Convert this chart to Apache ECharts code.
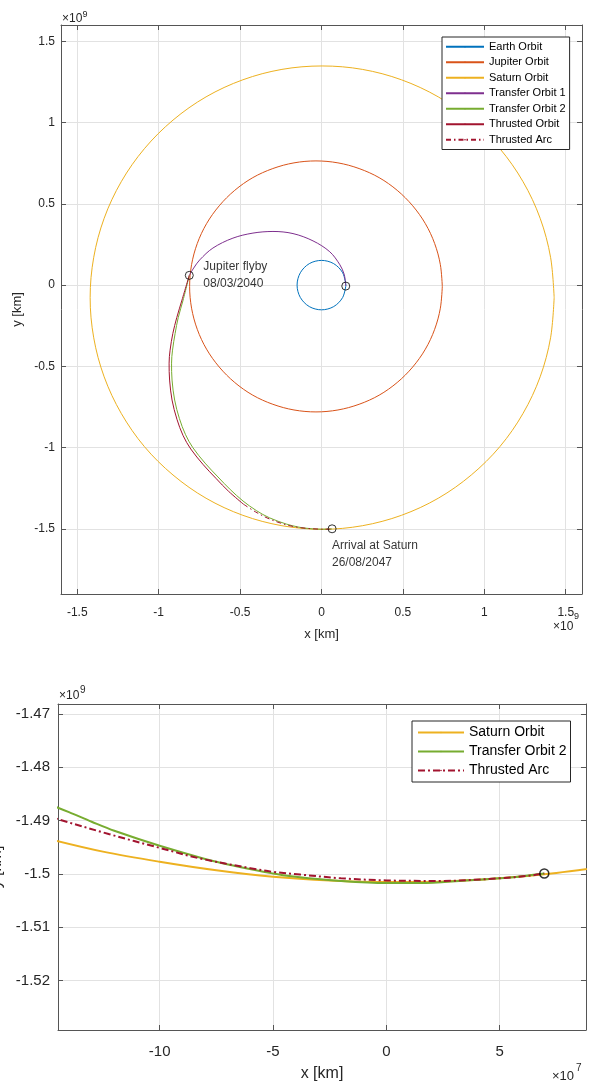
<!DOCTYPE html>
<html><head><meta charset="utf-8">
<script src="https://cdn.jsdelivr.net/npm/echarts@6/dist/echarts.min.js"></script>
<style>html,body{margin:0;padding:0;background:#fff}#c{width:592px;height:1082px}</style>
</head><body><div id="c"></div>
<script>
// ---- DATA (top plot: x, y in 1e9 km; zoom plot: x in 1e7 km, y in 1e9 km) ----
const earthOrbit = [[0.150,0.000],[0.130,0.076],[0.075,0.132],[0.000,0.152],[-0.075,0.132],[-0.130,0.076],[-0.150,0.000],[-0.130,-0.076],[-0.075,-0.132],[0.000,-0.152],[0.075,-0.132],[0.130,-0.076],[0.150,0.000]];
const jupiterOrbit = [[0.742,-0.008],[0.730,0.126],[0.695,0.256],[0.638,0.378],[0.560,0.488],[0.465,0.583],[0.354,0.661],[0.231,0.717],[0.101,0.752],[-0.034,0.764],[-0.169,0.752],[-0.299,0.717],[-0.422,0.661],[-0.533,0.583],[-0.628,0.488],[-0.706,0.378],[-0.763,0.256],[-0.798,0.126],[-0.810,-0.008],[-0.798,-0.142],[-0.763,-0.272],[-0.706,-0.394],[-0.628,-0.504],[-0.533,-0.599],[-0.422,-0.677],[-0.299,-0.733],[-0.169,-0.768],[-0.034,-0.780],[0.101,-0.768],[0.231,-0.733],[0.354,-0.677],[0.465,-0.599],[0.560,-0.504],[0.638,-0.394],[0.695,-0.272],[0.730,-0.142],[0.742,-0.008]];
const saturnOrbit = [[1.429,-0.077],[1.407,0.171],[1.343,0.411],[1.238,0.636],[1.096,0.839],[0.920,1.015],[0.717,1.158],[0.491,1.263],[0.251,1.327],[0.004,1.348],[-0.243,1.327],[-0.483,1.263],[-0.709,1.158],[-0.912,1.015],[-1.088,0.839],[-1.230,0.636],[-1.335,0.411],[-1.399,0.171],[-1.421,-0.077],[-1.399,-0.324],[-1.335,-0.564],[-1.230,-0.789],[-1.088,-0.993],[-0.912,-1.168],[-0.709,-1.311],[-0.483,-1.416],[-0.243,-1.480],[0.004,-1.502],[0.251,-1.480],[0.491,-1.416],[0.717,-1.311],[0.920,-1.168],[1.096,-0.993],[1.238,-0.789],[1.343,-0.564],[1.407,-0.324],[1.429,-0.077]];
const transferOrbit1 = [[0.149,-0.006],[0.145,0.035],[0.138,0.070],[0.113,0.125],[0.051,0.205],[-0.052,0.272],[-0.175,0.317],[-0.298,0.330],[-0.421,0.320],[-0.544,0.289],[-0.667,0.228],[-0.748,0.155],[-0.785,0.105],[-0.812,0.060]];
const transferOrbit2 = [[-0.812,0.060],[-0.850,-0.092],[-0.880,-0.200],[-0.899,-0.297],[-0.915,-0.400],[-0.921,-0.480],[-0.918,-0.584],[-0.902,-0.707],[-0.873,-0.820],[-0.835,-0.920],[-0.790,-1.000],[-0.715,-1.095],[-0.636,-1.180],[-0.560,-1.258],[-0.482,-1.328],[-0.400,-1.387],[-0.318,-1.432],[-0.215,-1.470],[-0.145,-1.4876],[-0.100,-1.4947],[-0.050,-1.4999],[0.000,-1.5017],[0.035,-1.5011],[0.065,-1.4999]];
const thrustedOrbit = [[-0.812,0.060],[-0.857,-0.092],[-0.889,-0.200],[-0.913,-0.297],[-0.930,-0.400],[-0.936,-0.480],[-0.933,-0.584],[-0.918,-0.707],[-0.888,-0.825],[-0.850,-0.926],[-0.803,-1.008],[-0.726,-1.105],[-0.647,-1.190],[-0.571,-1.268],[-0.480,-1.347]];
const thrustedArc = [[-0.480,-1.347],[-0.405,-1.395],[-0.321,-1.438],[-0.217,-1.4745],[-0.145,-1.4897],[-0.100,-1.4951],[-0.060,-1.4985],[0.000,-1.5012],[0.024,-1.5013],[0.050,-1.5008],[0.065,-1.4999]];
const eventPoints = [[0.149,-0.006],[-0.812,0.060],[0.065,-1.499]];
const eventLabels = ['', 'Jupiter flyby\n08/03/2040', 'Arrival at Saturn\n26/08/2047'];

const zoomSaturn = [[-15,-1.4933],[-12.5,-1.4958],[-10,-1.4977],[-7.5,-1.4993],[-5,-1.5005],[-2.5,-1.5012],[0,-1.5015],[2.5,-1.5014],[5,-1.5008],[7.5,-1.4998],[10,-1.4984]];
const zoomTransfer2 = [[-15,-1.4867],[-14,-1.4884],[-13,-1.4902],[-12,-1.4919],[-10,-1.4947],[-7.5,-1.4977],[-5,-1.4999],[-4,-1.5005],[-2,-1.5013],[0,-1.5017],[1.5,-1.5017],[3.5,-1.5012],[5,-1.5008],[6,-1.5004],[6.97,-1.4999]];
const zoomArc = [[-15,-1.4890],[-14.5,-1.4897],[-12.25,-1.4925],[-10,-1.4951],[-8.2,-1.4971],[-6,-1.4989],[-5,-1.4996],[-3.8,-1.5001],[-2,-1.5008],[0,-1.5012],[2.4,-1.5013],[5,-1.5008],[6.35,-1.5003],[6.97,-1.4999]];
const zoomEvent = [[6.97,-1.4999]];

const topNames = ['Earth Orbit','Jupiter Orbit','Saturn Orbit','Transfer Orbit 1','Transfer Orbit 2','Thrusted Orbit','Thrusted Arc'];
const zoomNames = ['Saturn Orbit','Transfer Orbit 2','Thrusted Arc'];

// ---- STYLE ----
const FONT = '"Liberation Sans", Arial, Helvetica, sans-serif';
const C = {earth:'#0072BD', jup:'#D95319', sat:'#EDB120', t1:'#7E2F8E', t2:'#77AC30', thr:'#A2142F'};
const AX = '#555555', TXT = '#262626', GRID = '#e2e2e2';

function xAxis(g, min, max, split, fs, name, gap, margin, main) {
  return {
    type:'value', gridIndex:g, min:min, max:max, splitNumber:split,
    position: main ? 'bottom' : 'top',
    axisLine:{show:true, onZero:false, lineStyle:{color:AX, width:1}},
    axisTick:{show:true, inside:true, length:5, lineStyle:{color:AX}},
    axisLabel:{show:main, showMinLabel:false, showMaxLabel:false, color:TXT, fontSize:fs, fontFamily:FONT, margin:margin},
    splitLine:{show:main, lineStyle:{color:GRID, width:1}},
    name: main ? name : '', nameLocation:'middle', nameGap:gap,
    nameTextStyle:{color:TXT, fontSize:fs+1, fontFamily:FONT}
  };
}
function yAxis(g, min, max, split, fs, name, gap, margin, main) {
  return {
    type:'value', gridIndex:g, min:min, max:max, splitNumber:split,
    position: main ? 'left' : 'right',
    axisLine:{show:true, onZero:false, lineStyle:{color:AX, width:1}},
    axisTick:{show:true, inside:true, length:5, lineStyle:{color:AX}},
    axisLabel:{show:main, showMinLabel:false, showMaxLabel:false, color:TXT, fontSize:fs, fontFamily:FONT, margin:margin},
    splitLine:{show:main, lineStyle:{color:GRID, width:1}},
    name: main ? name : '', nameLocation:'middle', nameGap:gap, nameRotate:90,
    nameTextStyle:{color:TXT, fontSize:fs+1, fontFamily:FONT}
  };
}
function line(name, data, color, w, xi, yi, dash) {
  return {
    name:name, type:'line', xAxisIndex:xi, yAxisIndex:yi, data:data,
    symbol:'none', showSymbol:false, smooth:0.34, silent:true,
    lineStyle:{color:color, width:w, type: dash || 'solid'},
    itemStyle:{color:color}
  };
}

const topDash = [5, 3, 1.5, 3];
const zoomDash = [7, 3, 2, 3];

const option = {
  animation:false,
  backgroundColor:'#fff',
  grid:[
    {left:61, top:25, width:521, height:569, outerBoundsMode:'none', containLabel:false},
    {left:58, top:704, width:528, height:326, outerBoundsMode:'none', containLabel:false}
  ],
  xAxis:[
    xAxis(0, -1.6, 1.6, 6, 12, 'x [km]', 34, 13, true),
    xAxis(0, -1.6, 1.6, 6, 12, '', 0, 0, false),
    xAxis(1, -14.484, 8.81, 5, 15, 'x [km]', 36, 14.5, true),
    xAxis(1, -14.484, 8.81, 5, 15, '', 0, 0, false)
  ],
  yAxis:[
    yAxis(0, -1.9, 1.6, 7, 12, 'y [km]', 25.5, 6, true),
    yAxis(0, -1.9, 1.6, 7, 12, '', 0, 0, false),
    yAxis(1, -1.52925, -1.46812, 6, 15, 'y [km]', 38, 8, true),
    yAxis(1, -1.52925, -1.46812, 6, 15, '', 0, 0, false)
  ],
  legend:[
    {
      data: topNames, orient:'vertical', left:442, top:37,
      itemWidth:38, itemHeight:2, itemGap:0, padding:[2,4,2,3],
      borderColor:'#262626', borderWidth:1, backgroundColor:'#fff',
      selectedMode:false,
      textStyle:{color:'#000', fontSize:11, fontFamily:FONT, lineHeight:15.5}
    },
    {
      data: zoomNames.map(n => n + '#z'), orient:'vertical', left:412, top:721,
      itemWidth:46, itemHeight:2, itemGap:0, padding:[2,4,2,5],
      borderColor:'#262626', borderWidth:1, backgroundColor:'#fff',
      selectedMode:false,
      formatter: n => n.split('#')[0],
      textStyle:{color:'#000', fontSize:14, fontFamily:FONT, lineHeight:19}
    }
  ],
  series:[
    line('Earth Orbit', earthOrbit, C.earth, 1, 0, 0),
    line('Jupiter Orbit', jupiterOrbit, C.jup, 1, 0, 0),
    line('Saturn Orbit', saturnOrbit, C.sat, 1, 0, 0),
    line('Transfer Orbit 1', transferOrbit1, C.t1, 1, 0, 0),
    line('Transfer Orbit 2', transferOrbit2, C.t2, 1, 0, 0),
    line('Thrusted Orbit', thrustedOrbit, C.thr, 1, 0, 0),
    line('Thrusted Arc', thrustedArc, C.thr, 1, 0, 0, topDash),
    {
      type:'scatter', xAxisIndex:0, yAxisIndex:0, silent:true, z:5,
      symbol:'circle', symbolSize:8,
      itemStyle:{color:'rgba(0,0,0,0)', borderColor:'#000', borderWidth:1},
      data: eventPoints.map((p, i) => {
        const item = {value:p};
        if (i === 1) item.label = {show:true, formatter:eventLabels[i], position:'right', distance:9.5,
          color:'#000', fontSize:12, fontFamily:FONT, lineHeight:16.6, align:'left'};
        if (i === 2) item.label = {show:true, formatter:eventLabels[i], position:[4.4, 13],
          color:'#000', fontSize:12, fontFamily:FONT, lineHeight:16.6};
        return item;
      })
    },
    line('Saturn Orbit#z', zoomSaturn, C.sat, 2, 2, 2),
    line('Transfer Orbit 2#z', zoomTransfer2, C.t2, 2, 2, 2),
    line('Thrusted Arc#z', zoomArc, C.thr, 2, 2, 2, zoomDash),
    {
      type:'scatter', xAxisIndex:2, yAxisIndex:2, silent:true, z:5,
      symbol:'circle', symbolSize:9,
      itemStyle:{color:'rgba(0,0,0,0)', borderColor:'#000', borderWidth:1.5},
      data: zoomEvent
    }
  ],
  graphic:[
    {type:'text', x:62, y:19, style:{text:'×10', fontSize:12, fontFamily:FONT, fill:TXT, align:'left', verticalAlign:'middle'}},
    {type:'text', x:82.5, y:15, style:{text:'9', fontSize:9, fontFamily:FONT, fill:TXT, align:'left', verticalAlign:'middle'}},
    {type:'text', x:553, y:627, style:{text:'×10', fontSize:12, fontFamily:FONT, fill:TXT, align:'left', verticalAlign:'middle'}},
    {type:'text', x:574, y:617, style:{text:'9', fontSize:9, fontFamily:FONT, fill:TXT, align:'left', verticalAlign:'middle'}},
    {type:'text', x:59, y:696, style:{text:'×10', fontSize:12, fontFamily:FONT, fill:TXT, align:'left', verticalAlign:'middle'}},
    {type:'text', x:80, y:690, style:{text:'9', fontSize:10, fontFamily:FONT, fill:TXT, align:'left', verticalAlign:'middle'}},
    {type:'text', x:552, y:1076, style:{text:'×10', fontSize:13, fontFamily:FONT, fill:TXT, align:'left', verticalAlign:'middle'}},
    {type:'text', x:576, y:1068, style:{text:'7', fontSize:10, fontFamily:FONT, fill:TXT, align:'left', verticalAlign:'middle'}}
  ]
};

const chart = echarts.init(document.getElementById('c'), null, {renderer:'canvas'});
chart.setOption(option);
</script>
</body></html>
